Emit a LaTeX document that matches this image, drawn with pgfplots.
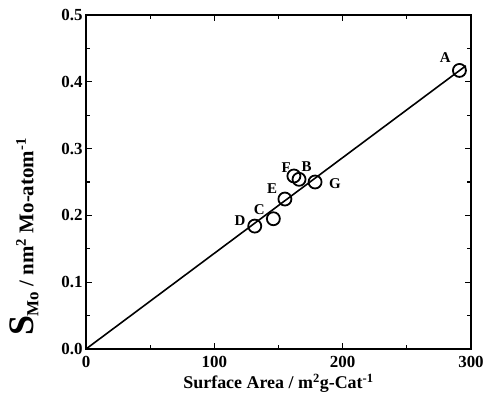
\documentclass[border=0pt]{standalone}
\usepackage{fontspec}
\setmainfont{Liberation Serif}
\usepackage{pgfplots}
\pgfplotsset{compat=1.18}

\begin{document}
\begin{tikzpicture}
\begin{axis}[
  name=ax,
  scale only axis,
  width=385bp, height=334bp,
  xmin=0, xmax=300, ymin=0, ymax=0.5,
  xtick={0,100,200,300}, ytick={0,0.1,...,0.5},
  minor x tick num=1, minor y tick num=1,
  tick align=inside,
  major tick length=6bp, minor tick length=4bp,
  axis line style={line width=1.8pt},
  every tick/.style={line width=1.2pt, black},
  /pgf/number format/assume math mode=true,
  yticklabel style={/pgf/number format/.cd, fixed, fixed zerofill, precision=1},
  tick label style={font=\fontsize{17}{19}\selectfont\bfseries},
  xticklabel style={yshift=-4bp},
  xlabel={\fontsize{18}{20}\selectfont\bfseries Surface Area / m\textsuperscript{2}g-Cat\textsuperscript{-1}},
  ylabel={\bfseries{\fontsize{36}{38}\selectfont S}\raisebox{-5bp}{\fontsize{17}{19}\selectfont Mo}\fontsize{21}{23}\selectfont\ / nm\textsuperscript{2} Mo-atom\textsuperscript{-1}},
  xlabel style={yshift=1bp},
  ylabel style={yshift=16bp, xshift=-55bp},
  clip=false,
]
\addplot[black, line width=1.6pt] coordinates {(0,0) (296,0.424)};
\addplot[only marks, mark=o, mark size=6.5bp, mark options={line width=1.8pt, fill=white}]
  coordinates {
  (291,0.417) (162,0.259) (166,0.254) (178.5,0.250)
  (155,0.2245) (146,0.195) (131.5,0.184)};
\node[font=\fontsize{15}{17}\selectfont\bfseries] at (axis cs:280,0.437) {A};
\node[font=\fontsize{15}{17}\selectfont\bfseries] at (axis cs:156,0.272) {F};
\node[font=\fontsize{15}{17}\selectfont\bfseries] at (axis cs:172,0.273) {B};
\node[font=\fontsize{15}{17}\selectfont\bfseries] at (axis cs:194,0.247) {G};
\node[font=\fontsize{15}{17}\selectfont\bfseries] at (axis cs:145,0.240) {E};
\node[font=\fontsize{15}{17}\selectfont\bfseries] at (axis cs:135,0.208) {C};
\node[font=\fontsize{15}{17}\selectfont\bfseries] at (axis cs:120,0.192) {D};
\end{axis}
\pgfresetboundingbox
\path ([shift={(-86bp,-53bp)}]ax.south west) rectangle ([shift={(17bp,15bp)}]ax.north east);
\end{tikzpicture}
\end{document}
